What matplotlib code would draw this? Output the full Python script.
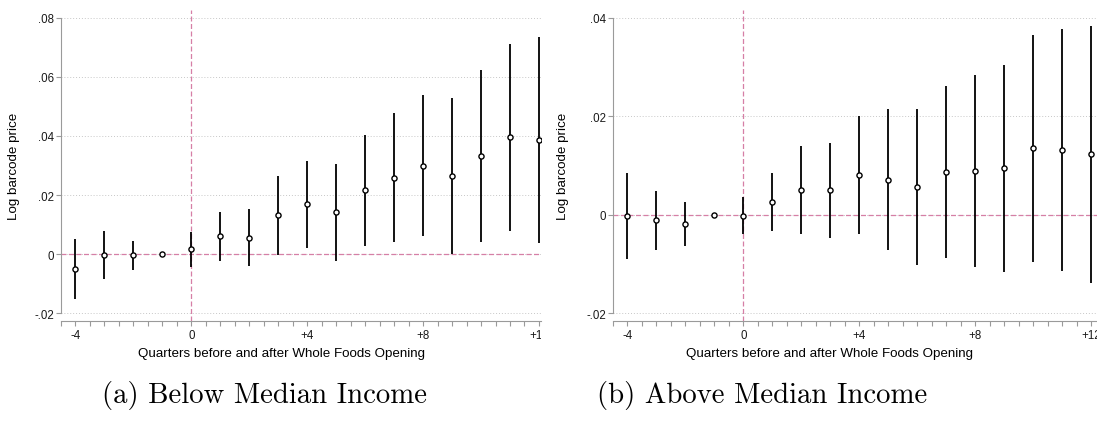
import numpy as np
import matplotlib
matplotlib.use("Agg")
import matplotlib.pyplot as plt
from matplotlib.transforms import Bbox, TransformedBbox

plt.rcParams['font.family'] = ['Liberation Sans', 'DejaVu Sans']

# event time (quarters relative to opening)
quarters = [-4, -3, -2, -1, 0, 1, 2, 3, 4, 5, 6, 7, 8, 9, 10, 11, 12]

# (a) below median income
below_coef = [-0.0050, -0.0005, -0.0005, 0.0, 0.0018, 0.0060, 0.0055, 0.0131, 0.0168, 0.0141,
              0.0217, 0.0259, 0.0300, 0.0266, 0.0333, 0.0395, 0.0386]
below_lo = [-0.0152, -0.0086, -0.0053, 0.0, -0.0043, -0.0022, -0.0041, -0.0002, 0.0020, -0.0024,
            0.0028, 0.0041, 0.0060, 0.0001, 0.0042, 0.0077, 0.0036]
below_hi = [0.0052, 0.0078, 0.0044, 0.0, 0.0076, 0.0141, 0.0151, 0.0263, 0.0315, 0.0305,
            0.0404, 0.0477, 0.0540, 0.0530, 0.0625, 0.0713, 0.0736]

# (b) above median income
above_coef = [-0.0003, -0.0011, -0.0019, 0.0, -0.0003, 0.0026, 0.0050, 0.0050, 0.0081, 0.0071,
              0.0056, 0.0087, 0.0088, 0.0094, 0.0135, 0.0132, 0.0123]
above_lo = [-0.0090, -0.0071, -0.0064, 0.0, -0.0040, -0.0033, -0.0039, -0.0047, -0.0040, -0.0072,
            -0.0103, -0.0088, -0.0107, -0.0116, -0.0096, -0.0115, -0.0139]
above_hi = [0.0084, 0.0049, 0.0026, 0.0, 0.0036, 0.0085, 0.0140, 0.0146, 0.0201, 0.0214,
            0.0214, 0.0262, 0.0283, 0.0305, 0.0366, 0.0378, 0.0383]

x_ticks = [-4, 0, 4, 8, 12]
x_ticklabels = ['-4', '0', '+4', '+8', '+12']
below_yticks = [-0.02, 0, 0.02, 0.04, 0.06, 0.08]
below_yticklabels = ['-.02', '0', '.02', '.04', '.06', '.08']
above_yticks = [-0.02, 0, 0.02, 0.04]
above_yticklabels = ['-.02', '0', '.02', '.04']

W, H = 1097, 427
fig = plt.figure(figsize=(W / 100, H / 100), dpi=100)

pink = '#d67fa6'
axis_gray = '#9a9a9a'


def px_axes(x0, x1, ytop, ybot):
  return fig.add_axes([x0 / W, (H - ybot) / H, (x1 - x0) / W, (ybot - ytop) / H])


def draw_panel(ax, coef, lo, hi, yticks, yticklabels, ylim, xlim):
  ax.set_xlim(*xlim)
  ax.set_ylim(*ylim)

  # zero lines
  ax.axhline(0, color=pink, lw=0.9, ls=(0, (4, 2)), zorder=2)
  ax.axvline(0, color=pink, lw=0.9, ls=(0, (4, 2)), zorder=2)

  # confidence intervals and point estimates
  ax.vlines(quarters, lo, hi, color='black', lw=1.3, zorder=3)
  ax.plot(quarters, coef, 'o', ms=3.7, mfc='white', mec='black', mew=1.0, zorder=4)

  for s in ['top', 'right']:
    ax.spines[s].set_visible(False)
  ax.spines['left'].set_color(axis_gray)
  ax.spines['bottom'].set_color(axis_gray)
  ax.spines['left'].set_linewidth(0.8)
  ax.spines['bottom'].set_linewidth(0.8)
  ax.spines['left'].set_bounds(yticks[0], yticks[-1])

  ax.set_yticks(yticks)
  ax.set_yticklabels(yticklabels)
  ax.set_xticks(x_ticks)
  ax.set_xticklabels(x_ticklabels)
  ax.set_xticks(np.arange(-4.5, 12.01, 0.5), minor=True)

  ax.tick_params(axis='both', which='both', direction='out', length=3.3, width=0.8,
                 color=axis_gray, labelsize=8.3, labelcolor='#1a1a1a', pad=1.5)
  ax.tick_params(axis='x', which='both', pad=2.5)

  ax.yaxis.grid(True, linestyle=(0, (1, 2)), color='#c8c8c8', lw=0.7)
  ax.set_axisbelow(True)
  ax.set_ylabel('Log barcode price', fontsize=9.6)


# left panel
axL = px_axes(61, 541, 11, 322)
draw_panel(axL, below_coef, below_lo, below_hi, below_yticks, below_yticklabels,
           (-0.0227, 0.0827), (-4.5, 12.07))
axL.yaxis.set_label_coords((20 - 61) / 480, 0.5)

# right panel
axR = px_axes(613, 1097, 11, 322)
draw_panel(axR, above_coef, above_lo, above_hi, above_yticks, above_yticklabels,
           (-0.0216, 0.0416), (-4.5, 12.2))
axR.yaxis.set_label_coords((569 - 613) / 484, 0.5)

# the left sub-figure is cropped just after +12
clip = TransformedBbox(Bbox([[0, 0], [541 / W, 1]]), fig.transFigure)
for lab in axL.get_xticklabels():
  lab.set_clip_box(clip)
  lab.set_clip_on(True)

# x axis titles
fig.text(281 / W, (H - 354) / H, 'Quarters before and after Whole Foods Opening',
         ha='center', va='center', fontsize=9.6)
fig.text(829 / W, (H - 354) / H, 'Quarters before and after Whole Foods Opening',
         ha='center', va='center', fontsize=9.6)

# sub-captions
fig.text(264 / W, (H - 395) / H, '(a) Below Median Income', ha='center', va='center',
         fontsize=20.7, family='cmr10')
fig.text(762 / W, (H - 395) / H, '(b) Above Median Income', ha='center', va='center',
         fontsize=20.7, family='cmr10')

fig.savefig('out.png', dpi=100)
